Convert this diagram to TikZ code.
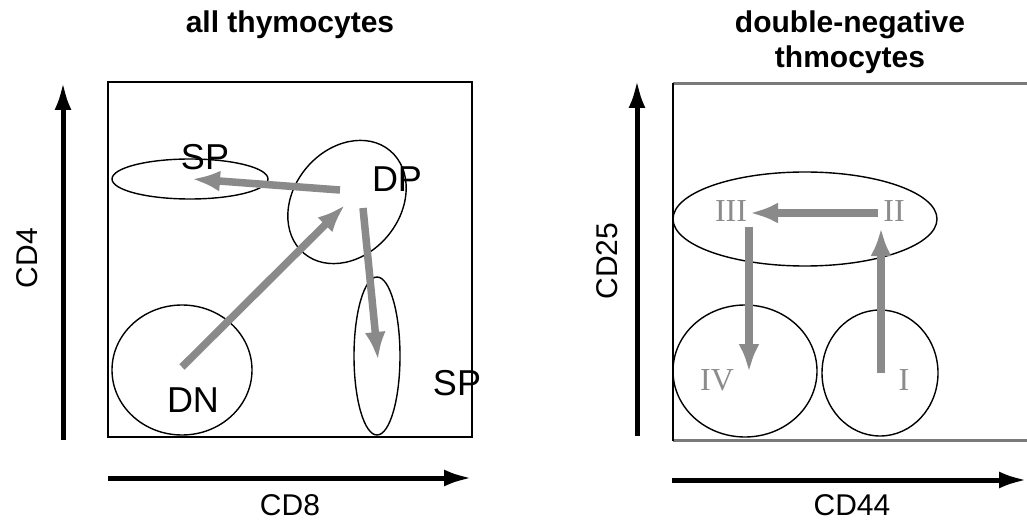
\documentclass[tikz,border=0pt]{standalone}
\usepackage{fontspec}
\newfontfamily\lsans{Liberation Sans}
\newfontfamily\lserif{Liberation Serif}
\usetikzlibrary{shapes.geometric,arrows.meta}
\definecolor{arrgray}{HTML}{8A8A8A}
\definecolor{numgray}{HTML}{8C8C8C}
\definecolor{boxgray}{HTML}{7A7A7A}
\tikzset{
  pop/.style={draw=black, line width=1.4pt, ellipse, inner sep=0pt},
  flow/.style={draw=arrgray, line width=7.5pt, -{Latex[length=28pt,width=21pt]}},
  axis/.style={draw=black, line width=5pt, -{Latex[length=28pt,width=17pt]}},
  lab/.style={font=\lsans\fontsize{36}{40}\selectfont, anchor=base, inner sep=0pt},
  ttl/.style={font=\lsans\bfseries\fontsize{30}{34}\selectfont, anchor=base, inner sep=0pt},
  axlab/.style={font=\lsans\fontsize{30}{34}\selectfont, anchor=base, inner sep=0pt},
  roman/.style={font=\lserif\fontsize{32}{36}\selectfont, text=numgray, anchor=base, inner sep=0pt},
}
\begin{document}
\begin{tikzpicture}[x=1pt,y=-1pt]
\useasboundingbox (0,0) rectangle (1027,529);
\clip (0,0) rectangle (1027,529);
\fill[white] (0,0) rectangle (1027,529);

% ---------- left panel ----------
\node[ttl] (t1) at (290,33) {all thymocytes};
\draw[black, line width=2pt] (108,82) rectangle (472,437);
\coordinate (y1a) at (63,440); \coordinate (y1b) at (63,82);
\coordinate (x1a) at (108,478); \coordinate (x1b) at (472,478);
\draw[axis] (y1a) -- (y1b);
\draw[axis] (x1a) -- (x1b);
\node[axlab, rotate=90] (cd4) at (37,258) {CD4};
\node[axlab] (cd8) at (290,515) {CD8};

\node[pop, minimum width=156pt, minimum height=40pt] (sp4) at (190,179) {};
\node[pop, minimum width=134pt, minimum height=106pt, rotate=50] (dp) at (347,202) {};
\node[pop, minimum width=140pt, minimum height=130pt] (dn) at (182,370) {};
\node[pop, minimum width=46pt, minimum height=158pt] (sp8) at (377,356) {};

\node[lab] (lsp4) at (205,170) {SP};
\node[lab] (ldp) at (397,192) {DP};
\node[lab] (ldn) at (193,412) {DN};
\node[lab] (lsp8) at (457,395) {SP};

\coordinate (a1s) at (182,367); \coordinate (a1e) at (345,205);
\coordinate (a2s) at (340,190); \coordinate (a2e) at (192,179);
\coordinate (a3s) at (363,208); \coordinate (a3e) at (378,360);
\draw[flow] (a1s) -- (a1e);
\draw[flow] (a2s) -- (a2e);
\draw[flow] (a3s) -- (a3e);

% ---------- right panel ----------
\node[ttl] (t2a) at (850,33) {double-negative};
\node[ttl] (t2b) at (850,68) {thmocytes};
\draw[boxgray, line width=3pt] (673,84) -- (1040,84);
\draw[boxgray, line width=3pt] (673,440) -- (1040,440);
\draw[black, line width=2pt] (673,83) -- (673,441);
\coordinate (y2a) at (637,436); \coordinate (y2b) at (637,80);
\coordinate (x2a) at (672,480); \coordinate (x2b) at (1027,480);
\draw[axis] (y2a) -- (y2b);
\draw[axis] (x2a) -- (x2b);
\node[axlab, rotate=90] (cd25) at (617,261) {CD25};
\node[axlab] (cd44) at (852,515) {CD44};

\node[pop, minimum width=264pt, minimum height=94pt] (e23) at (805,219) {};
\node[pop, minimum width=144pt, minimum height=132pt] (e4) at (745,371) {};
\node[pop, minimum width=116pt, minimum height=126pt] (e1) at (880,373) {};

\node[roman] (r3) at (731,222) {III};
\node[roman] (r2) at (894,222) {II};
\node[roman] (r4) at (717,390) {IV};
\node[roman] (r1) at (904,390) {I};

\coordinate (b1s) at (878,213); \coordinate (b1e) at (750,213);
\coordinate (b2s) at (749,227); \coordinate (b2e) at (749,372);
\coordinate (b3s) at (881,373); \coordinate (b3e) at (881,228);
\draw[flow] (b1s) -- (b1e);
\draw[flow] (b2s) -- (b2e);
\draw[flow] (b3s) -- (b3e);
\end{tikzpicture}
\end{document}
